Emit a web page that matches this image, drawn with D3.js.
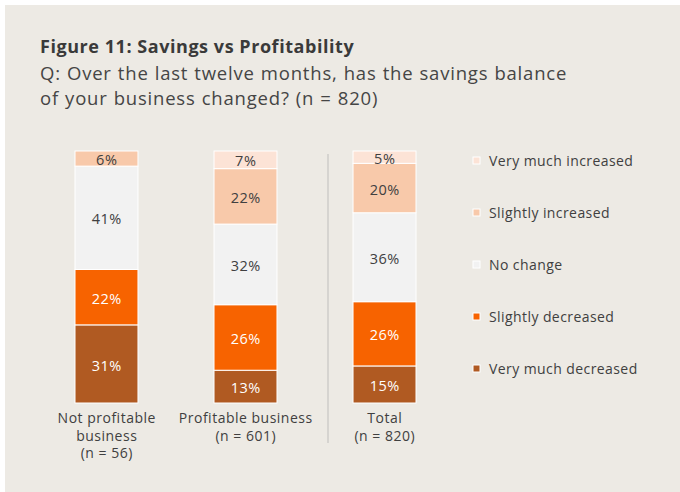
<!DOCTYPE html>
<html>
<head>
<meta charset="utf-8">
<script src="https://cdn.jsdelivr.net/npm/d3@7"></script>
<style>
  body { margin: 0; background: #fff; }
  svg { display: block; font-family: "Open Sans", Lato, sans-serif; }
</style>
</head>
<body>
<div class="chart"></div>
<script>
// data
const groups = ['Not profitable business (n = 56)', 'Profitable business (n = 601)', 'Total (n = 820)'];
const groupLines = [
  ['Not profitable', 'business', '(n = 56)'],
  ['Profitable business', '(n = 601)'],
  ['Total', '(n = 820)']
];
const answers = ['Very much decreased', 'Slightly decreased', 'No change', 'Slightly increased', 'Very much increased'];
const veryMuchDecreased = [31, 13, 15];
const slightlyDecreased = [22, 26, 26];
const noChange = [41, 32, 36];
const slightlyIncreased = [6, 22, 20];
const veryMuchIncreased = [0, 7, 5];
const colors = ['#b05a22', '#f76300', '#f2f2f2', '#f8c9aa', '#fce3d6'];
const textColors = ['#ffffff', '#ffffff', '#404040', '#404040', '#404040'];

const width = 680, height = 492;

const rows = groups.map((g, i) => ({
  group: g,
  'Very much decreased': veryMuchDecreased[i],
  'Slightly decreased': slightlyDecreased[i],
  'No change': noChange[i],
  'Slightly increased': slightlyIncreased[i],
  'Very much increased': veryMuchIncreased[i]
}));

const stack = d3.stack().keys(answers).offset(d3.stackOffsetExpand);
const series = stack(rows);

const x = d3.scaleBand().domain(groups).range([75, 416]).paddingInner(0.547).paddingOuter(0);
const y = d3.scaleLinear().domain([0, 1]).range([403, 151]);
const color = d3.scaleOrdinal().domain(answers).range(colors);

const svg = d3.select('.chart').append('svg')
  .attr('width', width)
  .attr('height', height);

svg.append('rect')
  .attr('x', 5).attr('y', 5)
  .attr('width', width - 5).attr('height', height - 5)
  .attr('fill', '#edeae4');

// titles
svg.append('text')
  .attr('x', 40).attr('y', 53)
  .attr('font-size', 18)
  .attr('font-weight', 700)
  .attr('letter-spacing', 0.55)
  .attr('fill', '#3a3a3a')
  .text('Figure 11: Savings vs Profitability');

const sub = ['Q: Over the last twelve months, has the savings balance', 'of your business changed? (n = 820)'];
svg.selectAll('.sub')
  .data(sub)
  .enter().append('text')
    .attr('class', 'sub')
    .attr('x', 40)
    .attr('y', (d, i) => 80 + i * 25)
    .attr('font-size', 18.5)
    .attr('letter-spacing', 0.8)
    .attr('word-spacing', 0.5)
    .attr('fill', '#454545')
    .text(d => d);

// divider between groups and total
svg.append('line')
  .attr('x1', 328).attr('x2', 328)
  .attr('y1', 154).attr('y2', 443)
  .attr('stroke', '#d6d4d0')
  .attr('stroke-width', 2);

// bars
const layer = svg.selectAll('.layer')
  .data(series)
  .enter().append('g')
    .attr('class', 'layer')
    .attr('fill', d => color(d.key));

layer.selectAll('rect')
  .data(d => d.filter(s => s[1] - s[0] > 0))
  .enter().append('rect')
    .attr('x', d => x(d.data.group))
    .attr('y', d => y(d[1]))
    .attr('width', x.bandwidth())
    .attr('height', d => y(d[0]) - y(d[1]))
    .attr('stroke', '#ffffff')
    .attr('stroke-width', 1);

series.forEach((s, k) => {
  svg.selectAll('.lbl' + k)
    .data(s.filter(d => d.data[s.key] > 0))
    .enter().append('text')
      .attr('x', d => x(d.data.group) + x.bandwidth() / 2 + 0.25)
      .attr('y', d => (y(d[0]) + y(d[1])) / 2)
      .attr('dy', '0.46em')
      .attr('text-anchor', 'middle')
      .attr('font-size', 14.5)
      .attr('letter-spacing', 0.5)
      .attr('fill', textColors[k])
      .text(d => d.data[s.key] + '%');
});

// category labels
groups.forEach((g, i) => {
  svg.append('text')
    .attr('x', x(g) + x.bandwidth() / 2)
    .attr('text-anchor', 'middle')
    .attr('font-size', 14)
    .attr('letter-spacing', 0.5)
    .attr('fill', '#404040')
    .selectAll('tspan')
    .data(groupLines[i])
    .enter().append('tspan')
      .attr('x', x(g) + x.bandwidth() / 2 + 0.25)
      .attr('y', (d, j) => 423 + j * 17.5)
      .text(d => d);
});

// legend
const legendY = d3.scalePoint().domain(answers.slice().reverse()).range([161, 369]);
const legend = svg.selectAll('.legend')
  .data(answers)
  .enter().append('g')
    .attr('class', 'legend')
    .attr('transform', d => `translate(473,${legendY(d)})`);

legend.append('rect')
  .attr('x', 0).attr('y', -4)
  .attr('width', 7).attr('height', 7)
  .attr('fill', d => color(d))
  .attr('stroke', '#ffffff')
  .attr('stroke-width', 1);

legend.append('text')
  .attr('x', 16)
  .attr('dy', '0.38em')
  .attr('font-size', 14)
  .attr('letter-spacing', 0.42)
  .attr('fill', '#404040')
  .text(d => d);
</script>
</body>
</html>
